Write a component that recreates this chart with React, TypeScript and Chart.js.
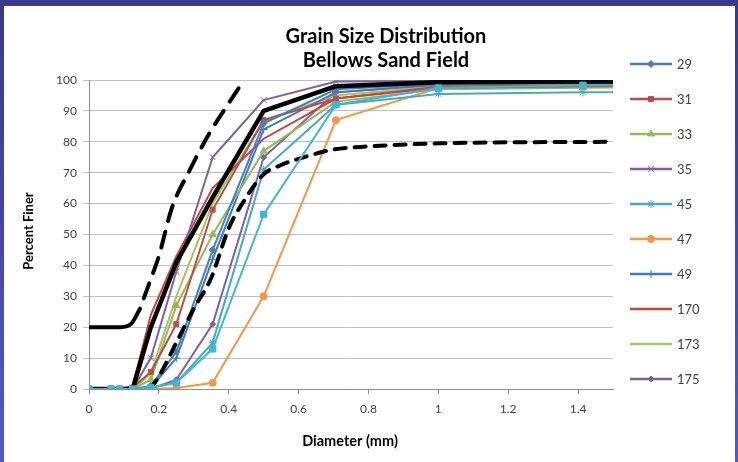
import React, { useEffect, useRef } from 'react';
import { Chart, registerables } from 'chart.js';
import * as helpers from 'chart.js/helpers';

Chart.register(...registerables);

const TITLE = 'Grain Size Distribution';
const SUBTITLE = 'Bellows Sand Field';
const X_TITLE = 'Diameter (mm)';
const Y_TITLE = 'Percent Finer';

// sieve diameters (mm)
const SIEVE = [0, 0.063, 0.088, 0.125, 0.177, 0.25, 0.354, 0.5, 0.707, 1.0, 1.414, 2.0];

const S29 = [0, 0, 0, 0, 1, 12, 45, 86, 97, 98.8, 99.2, 99.4];
const S31 = [0, 0, 0, 0.5, 5.5, 21, 58, 87, 94, 97.5, 98, 98.2];
const S33 = [0, 0, 0, 0, 3, 27, 50, 77, 93, 97, 97.5, 97.8];
const S35 = [0, 0, 0, 0, 10, 38, 75, 93.5, 99.5, 99.7, 99.8, 99.8];
const S45 = [0, 0, 0, 0, 0.5, 2, 15, 71, 92, 95.5, 96, 96.2];
const S47 = [0, 0, 0, 0, 0, 0.3, 2, 30, 87, 97.4, 98, 98.2];
const S49 = [0, 0, 0, 0, 0.5, 10, 42, 84, 96, 98.5, 99, 99.2];
const S170 = [0, 0, 0, 1, 24, 43, 65, 81, 94, 97.8, 98.3, 98.5];
const S173 = [0, 0, 0, 0, 5, 30, 60, 87, 95, 98, 98.5, 98.7];
const S175 = [0, 0, 0, 0, 0, 3, 21, 75, 96, 98.5, 99, 99.2];
const S_EXTRA = [0, 0, 0, 0, 0.5, 2, 13, 56.5, 92, 97.4, 98.3, 98.5];
const S_MEAN = [0, 0, 0, 0, 20, 41, 62, 90, 98, 99.3, 99.5, 99.6];

// envelope curves
const UB_BASE_X = [0, 0.09, 0.12, 0.146];
const UB_BASE_Y = [20, 20, 21, 26];
const UB_X = [0.146, 0.175, 0.2, 0.237, 0.289, 0.346, 0.4, 0.435];
const UB_Y = [26, 35, 43, 58.5, 71, 83, 92.5, 98.5];
const LB_X = [0.175, 0.2, 0.25, 0.3, 0.35, 0.4, 0.45, 0.5, 0.55, 0.6, 0.7, 0.8, 1.0, 1.5];
const LB_Y = [0, 4, 15, 26, 36, 52, 62, 69.5, 72.5, 74.5, 77.5, 78.5, 79.5, 80];

const Y_TICKS = [0, 10, 20, 30, 40, 50, 60, 70, 80, 90, 100];
const X_TICKS = [0, 0.2, 0.4, 0.6, 0.8, 1, 1.2, 1.4];

const FONT = "Lato, 'Open Sans', sans-serif";

const pts = (xs: number[], ys: number[]) => xs.map((x, i) => ({ x, y: ys[i] }));

type SeriesDef = { label: string; data: number[]; color: string; style: any; radius: number; legend: boolean };

const SERIES: SeriesDef[] = [
  { label: '29', data: S29, color: '#4A7EBB', style: 'rectRot', radius: 3.5, legend: true },
  { label: '31', data: S31, color: '#BE4B48', style: 'rect', radius: 3.5, legend: true },
  { label: '33', data: S33, color: '#98B954', style: 'triangle', radius: 4, legend: true },
  { label: '35', data: S35, color: '#7D60A0', style: 'crossRot', radius: 4, legend: true },
  { label: '45', data: S45, color: '#46AAC5', style: 'star', radius: 4, legend: true },
  { label: '47', data: S47, color: '#F79646', style: 'circle', radius: 3.5, legend: true },
  { label: '49', data: S49, color: '#3F78C0', style: 'cross', radius: 4, legend: true },
  { label: '170', data: S170, color: '#D0403C', style: 'circle', radius: 0, legend: true },
  { label: '173', data: S173, color: '#A4C65C', style: 'circle', radius: 0, legend: true },
  { label: '175', data: S175, color: '#7F5FA8', style: 'rectRot', radius: 3, legend: true },
  { label: 'extra', data: S_EXTRA, color: '#3FB6D6', style: 'rect', radius: 4.5, legend: false },
];

const customPlugin = {
  id: 'customDecor',
  beforeDraw(chart: any) {
    const ctx = chart.ctx;
    ctx.save();
    ctx.fillStyle = '#ffffff';
    ctx.fillRect(0, 0, chart.width, chart.height);
    ctx.restore();
  },
  afterDraw(chart: any) {
    const ctx = chart.ctx;
    ctx.save();
    ctx.fillStyle = '#000000';
    ctx.textAlign = 'center';
    ctx.textBaseline = 'middle';
    ctx.font = `bold 20px ${FONT}`;
    ctx.fillText(TITLE, 382, 31);
    ctx.fillText(SUBTITLE, 382, 55);
    ctx.font = `bold 14.5px ${FONT}`;
    ctx.fillText(X_TITLE, 346, 435);
    ctx.font = `bold 13px ${FONT}`;
    ctx.save();
    ctx.translate(25, 225);
    ctx.rotate(-Math.PI / 2);
    ctx.fillText(Y_TITLE, 0, 0);
    ctx.restore();

    // legend
    const legendItems = SERIES.filter((s) => s.legend);
    legendItems.forEach((s, i) => {
      const y = 58 + i * 35;
      ctx.strokeStyle = s.color;
      ctx.lineWidth = 2.5;
      ctx.setLineDash([]);
      ctx.beginPath();
      ctx.moveTo(626, y);
      ctx.lineTo(668, y);
      ctx.stroke();
      if (s.radius > 0) {
        ctx.fillStyle = s.color;
        ctx.strokeStyle = s.color;
        ctx.lineWidth = 1;
        (helpers as any).drawPoint(ctx, { pointStyle: s.style, radius: s.radius, rotation: 0, borderWidth: 1 }, 647, y);
      }
      ctx.fillStyle = '#404040';
      ctx.textAlign = 'left';
      ctx.font = `13px ${FONT}`;
      ctx.fillText(s.label, 673, y + 1);
    });
    ctx.restore();
  },
};

export default function App() {
  const ref = useRef<HTMLCanvasElement | null>(null);

  useEffect(() => {
    if (!ref.current) return;
    const datasets: any[] = [];
    datasets.push({
      label: 'extra',
      data: pts(SIEVE, S_EXTRA),
      borderColor: '#3FB6D6',
      backgroundColor: '#3FB6D6',
      borderWidth: 2,
      pointStyle: 'rect',
      pointRadius: 4.5,
      pointBorderWidth: 1,
      showLine: true,
    });
    datasets.push({
      label: 'mean',
      data: pts(SIEVE, S_MEAN),
      borderColor: '#000000',
      borderWidth: 4.5,
      pointRadius: 0,
      showLine: true,
      borderJoinStyle: 'round',
    });
    datasets.push({
      label: 'upperBase',
      data: pts(UB_BASE_X, UB_BASE_Y),
      borderColor: '#000000',
      borderWidth: 4,
      borderCapStyle: 'round',
      pointRadius: 0,
      showLine: true,
      cubicInterpolationMode: 'monotone',
    });
    datasets.push({
      label: 'upper',
      data: pts(UB_X, UB_Y),
      borderColor: '#000000',
      borderWidth: 4,
      borderDash: [16, 11],
      borderDashOffset: 16,
      borderCapStyle: 'round',
      pointRadius: 0,
      showLine: true,
      cubicInterpolationMode: 'monotone',
    });
    datasets.push({
      label: 'lower',
      data: pts(LB_X, LB_Y),
      borderColor: '#000000',
      borderWidth: 4,
      borderDash: [11, 9],
      borderCapStyle: 'round',
      pointRadius: 0,
      showLine: true,
      cubicInterpolationMode: 'monotone',
    });
    SERIES.filter((s) => s.legend).forEach((s) => {
      datasets.push({
        label: s.label,
        data: pts(SIEVE, s.data),
        borderColor: s.color,
        backgroundColor: s.color,
        pointBorderColor: s.color,
        borderWidth: 2,
        pointStyle: s.style,
        pointRadius: s.radius,
        pointBorderWidth: 1,
        showLine: true,
      });
    });

    const chart = new Chart(ref.current, {
      type: 'scatter',
      data: { datasets },
      options: {
        responsive: false,
        animation: false,
        devicePixelRatio: 1,
        layout: { padding: { left: 45, right: 122, top: 74, bottom: 0 } },
        plugins: {
          legend: { display: false },
          tooltip: { enabled: false },
          title: { display: false },
        },
        scales: {
          x: {
            type: 'linear',
            min: 0,
            max: 1.5,
            afterFit: (s: any) => { s.height = 73; },
            afterBuildTicks: (s: any) => { s.ticks = X_TICKS.map((v) => ({ value: v })); },
            ticks: {
              includeBounds: false,
              color: '#404040',
              font: { family: FONT, size: 12 },
              padding: 8,
              maxRotation: 0,
              callback: (v: any) => String(Math.round(Number(v) * 10) / 10),
            },
            grid: { drawOnChartArea: false, drawTicks: true, tickLength: 5, color: '#8C8C8C' },
            border: { color: '#8C8C8C', width: 1 },
          },
          y: {
            type: 'linear',
            min: 0,
            max: 100,
            afterFit: (s: any) => { s.width = 40; },
            afterBuildTicks: (s: any) => { s.ticks = Y_TICKS.map((v) => ({ value: v })); },
            ticks: {
              color: '#404040',
              font: { family: FONT, size: 12 },
              padding: 6,
            },
            grid: { color: '#BFBFBF', tickLength: 6, lineWidth: 1 },
            border: { color: '#8C8C8C', width: 1 },
          },
        },
      },
      plugins: [customPlugin],
    });
    return () => chart.destroy();
  }, []);

  return (
    <div
      style={{
        position: 'fixed',
        left: 0,
        top: 0,
        width: 738,
        height: 462,
        background: 'linear-gradient(180deg, #3A3A8A 0%, #4646A8 50%, #5656CC 100%)',
        overflow: 'hidden',
      }}
    >
      <canvas
        ref={ref}
        width={731}
        height={456}
        style={{ position: 'absolute', left: 4, top: 6, width: 731, height: 456, display: 'block' }}
      />
    </div>
  );
}
